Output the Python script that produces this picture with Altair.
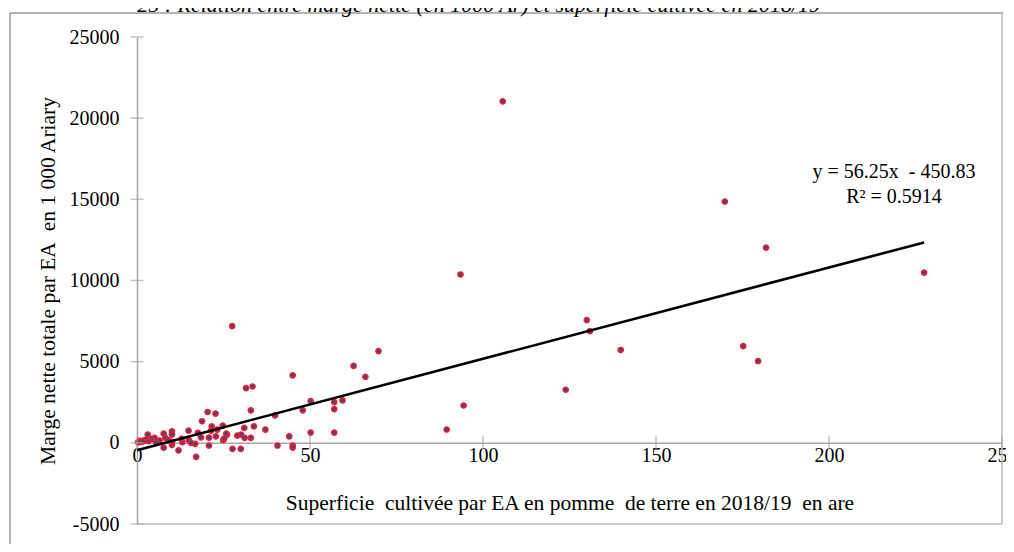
import altair as alt
import pandas as pd

# ---- data ----
superficie = [105.7, 169.9, 181.8, 227.5, 93.5, 130.0, 130.9, 27.5, 175.2, 179.5,
              139.8, 69.8, 62.6, 66.0, 45.0, 31.5, 33.4, 123.9, 94.4, 89.5,
              50.2, 57.0, 59.4, 57.0, 47.9, 20.4, 22.7, 32.9, 39.9, 18.8,
              37.1, 57.0, 50.2, 44.0, 33.8, 31.0, 31.1, 32.9, 29.0, 30.1,
              40.6, 45.0, 45.0, 27.6, 30.0, 24.8, 26.0, 24.9, 22.8, 21.6,
              20.8, 20.8, 18.5, 17.6, 14.9, 16.8, 17.1, 15.0, 15.6, 12.0,
              13.1, 10.1, 10.1, 10.1, 7.7, 7.7, 8.2, 9.1, 5.1, 4.2,
              3.1, 3.0, 2.1, 2.9, 1.3, 3.3, 0.8, 0.3, 6.5, 10.1,
              12.9, 23.2, 25.8, 25.2, 21.4, 5.5, 1.8]
marge = [21035, 14865, 12030, 10490, 10370, 7560, 6880, 7190, 5960, 5040,
         5720, 5650, 4740, 4070, 4160, 3370, 3470, 3270, 2300, 820,
         2570, 2510, 2610, 2080, 2000, 1900, 1800, 2000, 1690, 1330,
         815, 630, 630, 400, 1020, 920, 310, 310, 450, 510,
         -165, -165, -290, -370, -370, 1060, 510, 160, 400, 1020,
         320, -165, 340, 610, 750, -60, -860, 160, 0, -470,
         40, 710, 510, -120, 570, -300, 300, 160, 300, 250,
         510, 200, 150, 230, 60, 100, 120, 30, 140, 60,
         250, 815, 570, 260, 750, 50, 100]

tick_x = [0, 50, 100, 150, 200, 250]
tick_y = [-5000, 0, 5000, 10000, 15000, 20000, 25000]
slope, intercept = 56.25, -450.83
eq_lines = ["y = 56.25x\u00a0\u00a0- 450.83", "R\u00b2 = 0.5914"]
eq_pos_x = [218.8, 218.8]
eq_pos_y = [16700, 15160]

title_text = "25 : Relation entre marge nette (en 1000 Ar) et superficie cultivée en 2018/19"
x_title = "Superficie\u00a0 cultivée par EA en pomme\u00a0 de terre en 2018/19\u00a0 en are"
y_title = "Marge nette totale par EA\u00a0\u00a0en 1\u00a0000 Ariary"

# ---- layout ----
W, H = 865, 487
XD = [0, 250]
YD = [-5000, 25000]
FONT = "Liberation Serif"
AX = "#a6a6a6"
LFS = 20
TFS = 21.5

xs = alt.Scale(domain=XD, nice=False, zero=False)
ys = alt.Scale(domain=YD, nice=False, zero=False)

df = pd.DataFrame({"x": superficie, "y": marge})
x_max = max(superficie)
df_line = pd.DataFrame({"x": [0, x_max], "y": [intercept, slope * x_max + intercept]})
df_tx = pd.DataFrame({"x": tick_x, "y": [0] * len(tick_x)})
df_ty = pd.DataFrame({"x": [0] * len(tick_y), "y": tick_y})
df_eq = pd.DataFrame({"x": eq_pos_x, "y": eq_pos_y, "t": eq_lines})

x_offset = -H * (0 - YD[0]) / (YD[1] - YD[0])

x_axis = alt.Axis(
    values=tick_x, orient="bottom", offset=x_offset, ticks=False,
    domainColor=AX, domainWidth=1.5, grid=False,
    labelFont=FONT, labelFontSize=LFS, labelColor="#000", labelPadding=3,
    labelFlush=False, labelOverlap=False, labelExpr="'' + datum.value",
    title=x_title, titleFont=FONT, titleFontSize=TFS, titleFontWeight="normal",
    titleColor="#000", titlePadding=27)
y_axis = alt.Axis(
    values=tick_y, orient="left", ticks=False,
    domainColor=AX, domainWidth=1.5, grid=False,
    labelFont=FONT, labelFontSize=LFS, labelColor="#000", labelPadding=18,
    labelFlush=False, labelOverlap=False, labelExpr="'' + datum.value",
    title=y_title, titleFont=FONT, titleFontSize=TFS, titleFontWeight="normal",
    titleColor="#000", titlePadding=10)


def enc_xy():
    return dict(x=alt.X("x:Q", scale=xs, axis=x_axis, title=x_title),
                y=alt.Y("y:Q", scale=ys, axis=y_axis, title=y_title))


points = alt.Chart(df).mark_circle(
    size=26, fill="#3f4788", stroke="#e8202f", strokeWidth=1.6, opacity=1
).encode(**enc_xy())

line = alt.Chart(df_line).mark_line(color="#000", strokeWidth=2.6).encode(**enc_xy())

ticks_x = alt.Chart(df_tx).mark_tick(orient="vertical", size=13, thickness=1.5, color=AX).encode(**enc_xy())
ticks_y = alt.Chart(df_ty).mark_tick(orient="horizontal", size=13, thickness=1.5, color=AX).encode(**enc_xy())

eq = alt.Chart(df_eq).mark_text(font=FONT, fontSize=20, color="#000", align="center",
                                baseline="middle").encode(text="t:N", **enc_xy())

FR = "#9a9a9a"
PB = "#bdbdbd"
frame_top = alt.Chart(df.head(1)).mark_rule(color=FR, strokeWidth=1.5).encode(
    x=alt.value(-127), x2=alt.value(W + 1), y=alt.value(-24))
frame_left = alt.Chart(df.head(1)).mark_rule(color=FR, strokeWidth=1.5).encode(
    x=alt.value(-127), y=alt.value(-24), y2=alt.value(H + 25))
frame_right = alt.Chart(df.head(1)).mark_rule(color=PB, strokeWidth=1.5).encode(
    x=alt.value(W), y=alt.value(-24), y2=alt.value(H))
frame_bottom = alt.Chart(df.head(1)).mark_rule(color=PB, strokeWidth=1.5).encode(
    x=alt.value(0), x2=alt.value(W), y=alt.value(H))

title = alt.Chart(df.head(1)).mark_text(
    font=FONT, fontSize=22, fontStyle="italic", color="#000", align="right",
    baseline="alphabetic").encode(x=alt.value(683), y=alt.value(-25.5), text=alt.value(title_text))

chart = alt.layer(
    points, frame_top, frame_left, frame_right, frame_bottom,
    ticks_x, ticks_y, line, eq, title
).properties(
    width=W, height=H,
    autosize=alt.AutoSizeParams(type="none"),
    padding={"left": 129, "top": 29, "right": 4, "bottom": 20},
    background="white",
).configure_view(stroke=None)

chart.save("out.html", embed_options={"renderer": "svg", "actions": False})
